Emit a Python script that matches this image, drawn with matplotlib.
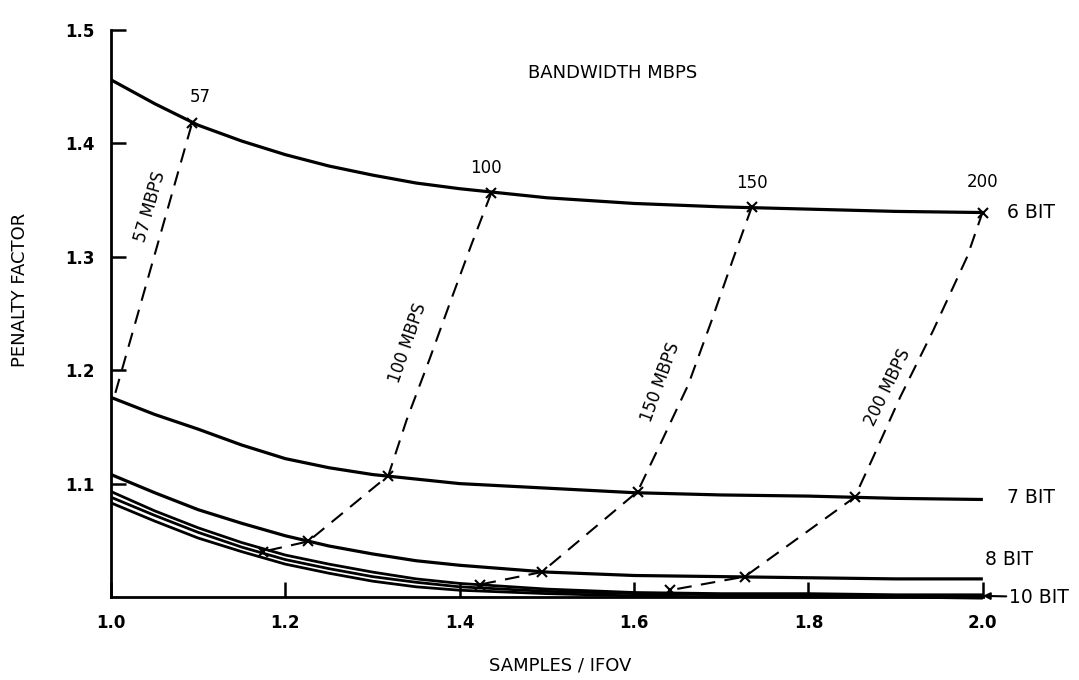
import matplotlib
matplotlib.use("Agg")
import matplotlib.pyplot as plt

# ---- data ----
x_grid = [1.0, 1.05, 1.1, 1.15, 1.2, 1.25, 1.3, 1.35, 1.4, 1.5, 1.6, 1.7, 1.8, 1.9, 2.0]
bit6 = [1.456, 1.435, 1.416, 1.402, 1.390, 1.380, 1.372, 1.365, 1.360, 1.352, 1.347, 1.344, 1.342, 1.340, 1.339]
bit7 = [1.176, 1.161, 1.148, 1.134, 1.122, 1.114, 1.108, 1.104, 1.100, 1.096, 1.092, 1.090, 1.089, 1.087, 1.086]
bit8 = [1.108, 1.092, 1.077, 1.065, 1.054, 1.045, 1.038, 1.032, 1.028, 1.022, 1.019, 1.018, 1.017, 1.016, 1.016]
bit9 = [1.093, 1.076, 1.061, 1.048, 1.037, 1.029, 1.022, 1.016, 1.012, 1.007, 1.004, 1.003, 1.003, 1.002, 1.002]
bit10 = [1.088, 1.072, 1.057, 1.044, 1.033, 1.025, 1.018, 1.013, 1.009, 1.005, 1.003, 1.002, 1.002, 1.001, 1.001]
bit12 = [1.083, 1.067, 1.052, 1.040, 1.029, 1.021, 1.014, 1.009, 1.006, 1.003, 1.001, 1.000, 1.000, 1.000, 0.999]

bw57_x = [1.005, 1.093]
bw57_y = [1.180, 1.418]
bw100_x = [1.436, 1.413, 1.390, 1.365, 1.339, 1.318, 1.226, 1.174]
bw100_y = [1.356, 1.310, 1.262, 1.209, 1.156, 1.107, 1.049, 1.040]
bw150_x = [1.735, 1.713, 1.689, 1.662, 1.632, 1.604, 1.494, 1.423]
bw150_y = [1.344, 1.297, 1.244, 1.187, 1.138, 1.093, 1.022, 1.011]
bw200_x = [2.000, 1.982, 1.943, 1.905, 1.874, 1.853, 1.727, 1.641]
bw200_y = [1.340, 1.300, 1.235, 1.176, 1.123, 1.088, 1.018, 1.006]

mark_x = [1.093, 1.436, 1.318, 1.226, 1.174, 1.735, 1.604, 1.494, 1.423, 2.000, 1.853, 1.727, 1.641]
mark_y = [1.418, 1.356, 1.107, 1.049, 1.040, 1.344, 1.093, 1.022, 1.011, 1.339, 1.088, 1.018, 1.006]

x_ticks = [1.0, 1.2, 1.4, 1.6, 1.8, 2.0]
x_ticklabels = ["1.0", "1.2", "1.4", "1.6", "1.8", "2.0"]
y_ticks = [1.1, 1.2, 1.3, 1.4, 1.5]
y_ticklabels = ["1.1", "1.2", "1.3", "1.4", "1.5"]

# ---- figure ----
fig = plt.figure(figsize=(10.79, 6.8), dpi=100)
ax = fig.add_axes([0.1029, 0.122, 0.808, 0.834])
ax.set_xlim(1.0, 2.0)
ax.set_ylim(1.0, 1.5)

for yy in (bit6, bit7, bit8):
    ax.plot(x_grid, yy, color="black", lw=2.3, clip_on=False,
            solid_capstyle="butt", solid_joinstyle="round")
for yy in (bit9, bit10, bit12):
    ax.plot(x_grid, yy, color="black", lw=2.0, clip_on=False,
            solid_capstyle="butt", solid_joinstyle="round")

dash = (0, (7, 4.5))
for bx, by in ((bw57_x, bw57_y), (bw100_x, bw100_y), (bw150_x, bw150_y), (bw200_x, bw200_y)):
    ax.plot(bx, by, color="black", lw=1.5, linestyle=dash, clip_on=False)
ax.plot(mark_x, mark_y, linestyle="none", marker="x", color="black",
        markersize=6.5, markeredgewidth=1.5, clip_on=False)

# spines / ticks
for s in ("top", "right"):
    ax.spines[s].set_visible(False)
for s in ("left", "bottom"):
    ax.spines[s].set_linewidth(2)
ax.set_xticks(x_ticks)
ax.set_xticklabels(x_ticklabels)
ax.set_yticks(y_ticks)
ax.set_yticklabels(y_ticklabels)
ax.tick_params(direction="in", length=11, width=1.8, labelsize=12, pad=12)
for lab in ax.get_xticklabels() + ax.get_yticklabels():
    lab.set_fontweight("bold")

fs = 12
ax.text(1.102, 1.441, "57", fontsize=fs, ha="center", va="center")
ax.text(1.430, 1.378, "100", fontsize=fs, ha="center", va="center")
ax.text(1.735, 1.365, "150", fontsize=fs, ha="center", va="center")
ax.text(2.000, 1.366, "200", fontsize=fs, ha="center", va="center")
ax.text(1.575, 1.462, "BANDWIDTH MBPS", fontsize=13, ha="center", va="center")

ax.text(2.028, 1.339, "6 BIT", fontsize=13.5, ha="left", va="center", clip_on=False)
ax.text(2.028, 1.088, "7 BIT", fontsize=13.5, ha="left", va="center", clip_on=False)
ax.text(2.003, 1.033, "8 BIT", fontsize=13.5, ha="left", va="center", clip_on=False)
ax.annotate("10 BIT", xy=(2.0, 1.001), xytext=(2.03, 1.0), fontsize=13.5,
            ha="left", va="center", annotation_clip=False,
            arrowprops=dict(arrowstyle="-|>", color="black", lw=1.5,
                            shrinkA=0, shrinkB=0, mutation_scale=10))

ax.text(1.045, 1.344, "57 MBPS", fontsize=fs, rotation=74, ha="center", va="center")
ax.text(1.340, 1.224, "100 MBPS", fontsize=fs, rotation=71, ha="center", va="center")
ax.text(1.630, 1.189, "150 MBPS", fontsize=fs, rotation=70, ha="center", va="center")
ax.text(1.891, 1.185, "200 MBPS", fontsize=fs, rotation=64, ha="center", va="center")

fig.text(20 / 1079, 1 - 290 / 680, "PENALTY FACTOR", rotation=90, fontsize=13,
         ha="center", va="center")
fig.text(560 / 1079, 1 - 665 / 680, "SAMPLES / IFOV", fontsize=13,
         ha="center", va="center")

fig.savefig("out.png", dpi=100, facecolor="white")
